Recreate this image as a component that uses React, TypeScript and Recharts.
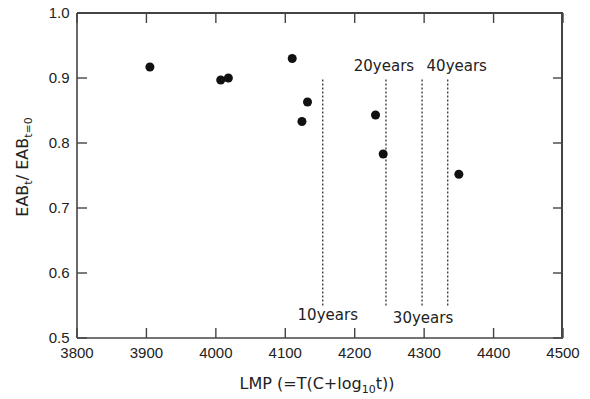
import { ScatterChart, Scatter, XAxis, YAxis, ZAxis, ReferenceLine } from "recharts";

// measured samples: Larson-Miller parameter vs. EAB ratio
const lmp = [3905, 4007, 4018, 4110, 4124, 4132, 4230, 4241, 4350];
const eabRatio = [0.917, 0.897, 0.9, 0.93, 0.833, 0.863, 0.843, 0.783, 0.752];

// service-life markers
const lifeNames = ["10years", "20years", "30years", "40years"];
const lifeLmp = [4154, 4245, 4297, 4334];
const lifeSpan = [0.55, 0.9];

const xDomain = [3800, 4500];
const yDomain = [0.5, 1.0];
const xTicks = [3800, 3900, 4000, 4100, 4200, 4300, 4400, 4500];
const yTicks = [0.5, 0.6, 0.7, 0.8, 0.9, 1.0];

// where each marker's caption sits relative to its dotted line
const captionPlace = [
  { below: true, shiftX: 5, gap: 14 },
  { below: false, shiftX: -2, gap: 7 },
  { below: true, shiftX: 1, gap: 17 },
  { below: false, shiftX: 9, gap: 7 },
];

const points = lmp.map((x, i) => ({ x, y: eabRatio[i] }));

const WIDTH = 590;
const HEIGHT = 399;
const Y_AXIS_W = 60;
const X_AXIS_H = 40;
const MARGIN = { top: 13, right: 27, bottom: 21, left: 17 };
const PLOT_LEFT = MARGIN.left + Y_AXIS_W;
const PLOT_TOP = MARGIN.top;
const PLOT_RIGHT = WIDTH - MARGIN.right;
const PLOT_BOTTOM = HEIGHT - MARGIN.bottom - X_AXIS_H;

const INK = "#222";
const FRAME = "#444";
const TICK_LEN = 10;
const tickFamily = "'Liberation Sans', Arial, sans-serif";
const captionFamily = "'DejaVu Sans', sans-serif";

// inward ticks on the bottom edge, mirrored on the top edge
function BottomTick({ x, y, payload }: any) {
  return (
    <g>
      <line x1={x} x2={x} y1={y} y2={y - TICK_LEN} stroke={FRAME} strokeWidth={1.4} />
      <line x1={x} x2={x} y1={PLOT_TOP} y2={PLOT_TOP + TICK_LEN} stroke={FRAME} strokeWidth={1.4} />
      <text x={x} y={y + 20} textAnchor="middle" fontFamily={tickFamily} fontSize={15} fill={INK}>
        {payload.value}
      </text>
    </g>
  );
}

// inward ticks on the left edge, mirrored on the right edge
function LeftTick({ x, y, payload }: any) {
  return (
    <g>
      <line x1={x} x2={x + TICK_LEN} y1={y} y2={y} stroke={FRAME} strokeWidth={1.4} />
      <line x1={PLOT_RIGHT} x2={PLOT_RIGHT - TICK_LEN} y1={y} y2={y} stroke={FRAME} strokeWidth={1.4} />
      <text x={x - 7.5} y={y + 5.3} textAnchor="end" fontFamily={tickFamily} fontSize={15} fill={INK}>
        {payload.value.toFixed(1)}
      </text>
    </g>
  );
}

function Caption({ viewBox, text, below, shiftX, gap }: any) {
  const { x, y, height } = viewBox;
  return (
    <text
      x={x + shiftX}
      y={below ? y + height + gap : y - gap}
      textAnchor="middle"
      fontFamily={captionFamily}
      fontSize={15}
      fill={INK}
    >
      {text}
    </text>
  );
}

function XTitle({ viewBox }: any) {
  const cx = viewBox.x + viewBox.width / 2 - 3;
  return (
    <text x={cx} y={389} textAnchor="middle" fontFamily={captionFamily} fontSize={16} fill={INK}>
      LMP (=T(C+log
      <tspan dy={4} fontSize={11}>10</tspan>
      <tspan dy={-4}>t))</tspan>
    </text>
  );
}

function YTitle() {
  return (
    <text
      x={28}
      y={167}
      transform="rotate(-90 28 167)"
      textAnchor="middle"
      fontFamily={captionFamily}
      fontSize={16}
      fill={INK}
    >
      EAB
      <tspan dy={4} fontSize={11}>t</tspan>
      <tspan dy={-4}>/ EAB</tspan>
      <tspan dy={4} fontSize={11}>t=0</tspan>
    </text>
  );
}

export default function App() {
  const axisLine = { stroke: FRAME, strokeWidth: 1.6 };
  return (
    <div style={{ position: "absolute", left: 0, top: 0, width: WIDTH, height: HEIGHT }}>
      <ScatterChart width={WIDTH} height={HEIGHT} margin={MARGIN}>
        <XAxis
          type="number"
          dataKey="x"
          domain={xDomain}
          ticks={xTicks}
          height={X_AXIS_H}
          axisLine={axisLine}
          tickLine={false}
          tickSize={0}
          tickMargin={0}
          tick={<BottomTick />}
          label={<XTitle />}
        />
        <YAxis
          type="number"
          dataKey="y"
          domain={yDomain}
          ticks={yTicks}
          width={Y_AXIS_W}
          axisLine={axisLine}
          tickLine={false}
          tickSize={0}
          tickMargin={0}
          tick={<LeftTick />}
          label={<YTitle />}
        />
        <ZAxis range={[80, 80]} />
        {lifeLmp.map((x, i) => (
          <ReferenceLine
            key={lifeNames[i]}
            segment={[
              { x, y: lifeSpan[0] },
              { x, y: lifeSpan[1] },
            ]}
            stroke={INK}
            strokeWidth={1.2}
            strokeDasharray="2 2"
            label={<Caption text={lifeNames[i]} {...captionPlace[i]} />}
          />
        ))}
        <Scatter data={points} fill="#111" isAnimationActive={false} />
      </ScatterChart>
      {/* top and right edges of the plot frame */}
      <div
        style={{
          position: "absolute",
          left: PLOT_LEFT,
          top: PLOT_TOP - 1,
          width: PLOT_RIGHT - PLOT_LEFT,
          height: PLOT_BOTTOM - PLOT_TOP,
          borderTop: `2px solid ${FRAME}`,
          borderRight: `2px solid ${FRAME}`,
          boxSizing: "border-box",
          pointerEvents: "none",
        }}
      />
    </div>
  );
}
